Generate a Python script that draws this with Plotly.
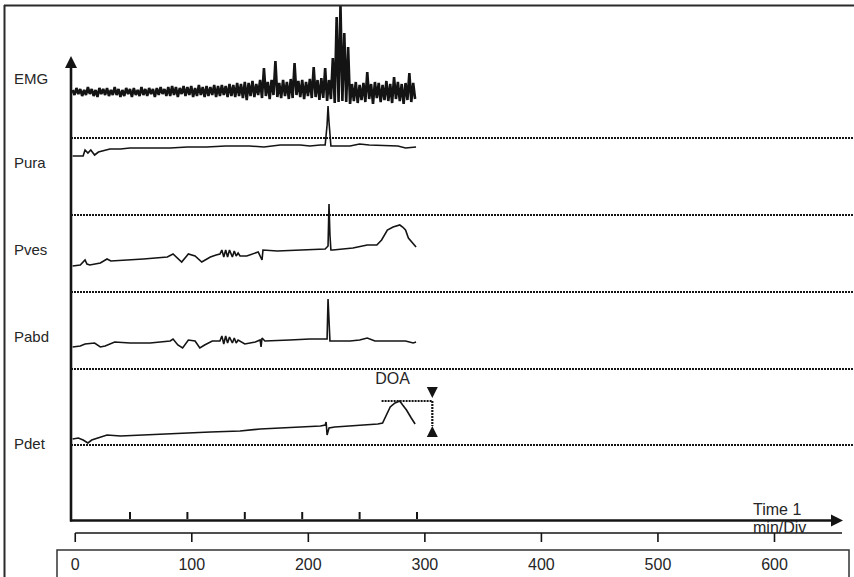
import plotly.graph_objects as go

# ---- data -------------------------------------------------------------
channels = ["EMG", "Pura", "Pves", "Pabd", "Pdet"]

minute_ticks = [60, 120, 180, 240, 300, 360]  # s, 1 min/Div
scale_ticks = [0, 100, 200, 300, 400, 500, 600]
scale_labels = ["0", "100", "200", "300", "400", "500", "600"]

emg_dt = 2  # s between EMG samples
emg = [
    2, -3, 4, -2, 3, -4, 2, -3, 5, -2,
    3, -4, 2, -5, 4, -2, 3, -3, 4, -4,
    2, -3, 5, -3, 3, -5, 2, -4, 4, -2,
    3, -5, 4, -3, 2, -4, 5, -3, 3, -4,
    4, -2, 3, -5, 4, -3, 5, -2, 3, -4,
    5, -4, 6, -3, 5, -5, 4, -2, 6, -4,
    5, -3, 6, -5, 4, -4, 7, -3, 5, -5,
    6, -4, 5, -3, 7, -5, 6, -4, 7, -3,
    6, -5, 8, -4, 7, -5, 9, -4, 8, -6,
    10, -8, 9, -4, 11, -5, 8, -3, 12, -6,
    24, -4, 10, -7, 12, -3, 31, -5, 9, -6,
    12, -4, 10, -7, 13, -6, 29, -3, 11, -5,
    12, -7, 10, -4, 13, -6, 25, -5, 12, -8,
    14, -6, 24, -9, 12, -7, 34, -11, 75, -10,
    87, -9, 59, -10, 45, -12, 8, -9, 10, -11,
    7, -8, 9, -10, 20, -7, 8, -12, 10, -6,
    9, -10, 7, -8, 11, -9, 8, -11, 15, -7,
    10, -9, 8, -12, 9, -8, 19, -10, 9, -7,
]

pura_t = [0, 11, 13, 16, 19, 23, 27, 32, 39, 50, 60, 81, 102, 120, 140, 160, 185,
          200, 217, 238, 248, 259, 264, 266, 267, 268, 270, 290, 300, 310, 331, 340,
          348, 359]
pura = [4, 4, 10, 7, 10, 5, 8, 9, 11, 11, 12, 12, 12, 13, 13, 14, 14,
        13, 15, 15, 14, 15, 15, 35, 54, 38, 14, 14, 16, 15, 14, 14,
        12, 13]

pves_t = [0, 8, 13, 15, 18, 29, 36, 40, 74, 99, 105, 109, 114, 121, 128, 135, 144,
          150, 154, 156, 158, 160, 162, 164, 167, 169, 171, 173, 175, 182, 194, 198,
          199, 214, 251, 264, 267, 268, 269, 270, 272, 293, 308, 318, 323, 329, 335,
          342, 345, 348, 351, 356, 359]
pves = [4, 5, 10, 6, 5, 7, 11, 9, 11, 13, 16, 12, 8, 16, 14, 8, 13,
        15, 16, 20, 13, 20, 13, 20, 13, 19, 14, 17, 14, 14, 18, 10,
        20, 19, 21, 21, 24, 66, 35, 20, 20, 22, 25, 25, 30, 40, 43,
        45, 43, 40, 32, 27, 23]

pabd_t = [0, 8, 13, 23, 29, 34, 44, 60, 81, 102, 105, 110, 115, 121, 128, 133, 138,
          146, 154, 156, 158, 160, 162, 164, 167, 169, 171, 173, 180, 191, 196, 197,
          198, 201, 227, 248, 264, 266, 267, 268, 269, 290, 300, 308, 316, 331, 348,
          356, 359]
pabd = [3, 4, 6, 7, 3, 4, 8, 7, 7, 9, 11, 5, 2, 10, 9, 2, 5,
        9, 9, 14, 6, 14, 7, 13, 7, 12, 7, 10, 6, 8, 10, 3,
        12, 9, 10, 11, 11, 11, 51, 20, 9, 9, 10, 12, 9, 9, 9,
        7, 8]

pdet_t = [0, 6, 11, 16, 20, 23, 29, 36, 50, 70, 91, 123, 144, 175, 196, 217, 238,
          259, 264, 265, 266, 268, 274, 290, 305, 319, 324, 332, 337, 342, 345, 349,
          354, 358]
pdet = [6, 7, 5, 2, 5, 6, 8, 10, 9, 10, 11, 12, 13, 14, 16, 17, 18,
        19, 20, 23, 10, 17, 18, 19, 20, 21, 22, 38, 42, 44, 40, 35,
        27, 21]

doa_t = [323, 376]
doa_level = 44
doa_base = 19
doa_arrow_top = 47

# ---- layout helpers (screen positions) -------------------------------
W, H = 854, 577
PX_PER_S = 0.9567   # 1 min/Div ~ 57.4 px
T0_PX = 72.6
U_PX = 1.1654       # lower scale, px per unit
U0_PX = 75.25
zero_px = {"EMG": 92, "Pura": 160, "Pves": 270, "Pabd": 350, "Pdet": 445}
label_px = {"EMG": 80, "Pura": 164, "Pves": 251, "Pabd": 338, "Pdet": 445}
dotted_px = [138, 215, 292, 369, 445]

INK = "#141414"
TXT = "#262626"
FONT = "Liberation Sans, Arial, sans-serif"


def tx(px):
    return (px - T0_PX) / PX_PER_S


def scale_to_t(u):
    # lower scale shares the time axis, with its own unit size
    return tx(U0_PX + u * U_PX)


def yy(px):
    return H - px


def lvl(name, vals):
    return [yy(zero_px[name]) + v for v in vals]


fig = go.Figure()

# traces
series = {
    "EMG": ([i * emg_dt for i in range(len(emg))], emg),
    "Pura": (pura_t, pura),
    "Pves": (pves_t, pves),
    "Pabd": (pabd_t, pabd),
    "Pdet": (pdet_t, pdet),
}
for name, (t, v) in series.items():
    fig.add_trace(
        go.Scatter(
            x=t,
            y=lvl(name, v),
            mode="lines",
            line=dict(color=INK, width=2.6 if name == "EMG" else 1.6),
            hoverinfo="skip",
        )
    )

# channel labels
fig.add_trace(
    go.Scatter(
        x=[tx(14)] * len(channels),
        y=[yy(label_px[c]) for c in channels],
        mode="text",
        text=channels,
        textposition="middle right",
        textfont=dict(family=FONT, size=15, color=TXT),
        hoverinfo="skip",
    )
)

# 1 min division ticks on the time axis
mx, my = [], []
for t in minute_ticks:
    mx += [t, t, None]
    my += [yy(519), yy(512), None]
fig.add_trace(go.Scatter(x=mx, y=my, mode="lines", line=dict(color=INK, width=2), hoverinfo="skip"))

# axis lines
fig.add_trace(
    go.Scatter(
        x=[tx(71), tx(71), None, tx(70), tx(833)],
        y=[yy(521.5), yy(66), None, yy(520.5), yy(520.5)],
        mode="lines",
        line=dict(color=INK, width=2.6),
        hoverinfo="skip",
    )
)
# axis arrowheads
fig.add_trace(
    go.Scatter(
        x=[tx(71), tx(843)],
        y=[yy(56), yy(520.5)],
        mode="markers",
        marker=dict(symbol=["arrow-up", "arrow-right"], size=12, color=INK, line=dict(width=0)),
        hoverinfo="skip",
    )
)

# lower scale: line, ticks and labels
sx, sy = [scale_to_t(scale_ticks[0]), tx(842), None], [yy(533), yy(533), None]
for u in scale_ticks:
    sx += [scale_to_t(u), scale_to_t(u), None]
    sy += [yy(533), yy(542), None]
fig.add_trace(go.Scatter(x=sx, y=sy, mode="lines", line=dict(color=INK, width=1.6), hoverinfo="skip"))
fig.add_trace(
    go.Scatter(
        x=[scale_to_t(u) for u in scale_ticks],
        y=[yy(566)] * len(scale_ticks),
        mode="text",
        text=scale_labels,
        textposition="middle center",
        textfont=dict(family=FONT, size=16, color=TXT),
        hoverinfo="skip",
    )
)

# DOA marker
pd0 = yy(zero_px["Pdet"])
fig.add_trace(
    go.Scatter(
        x=[doa_t[0], doa_t[1], None, doa_t[1], doa_t[1]],
        y=[pd0 + doa_level, pd0 + doa_level, None, pd0 + doa_level, pd0 + doa_base],
        mode="lines",
        line=dict(color=INK, width=2.2, dash="2px,1px"),
        hoverinfo="skip",
    )
)
fig.add_trace(
    go.Scatter(
        x=[doa_t[1], doa_t[1]],
        y=[pd0 + doa_arrow_top, pd0 + doa_base],
        mode="markers",
        marker=dict(symbol=["arrow-down", "arrow-up"], size=11, color=INK, line=dict(width=0)),
        hoverinfo="skip",
    )
)
fig.add_trace(
    go.Scatter(
        x=[(doa_t[0] + doa_t[1]) / 2 - 15],
        y=[yy(380)],
        mode="text",
        text=["DOA"],
        textposition="middle center",
        textfont=dict(family=FONT, size=16, color=TXT),
        hoverinfo="skip",
    )
)

# axis title
fig.add_trace(
    go.Scatter(
        x=[tx(753), tx(753)],
        y=[yy(511), yy(529)],
        mode="text",
        text=["Time 1", "min/Div"],
        textposition="middle right",
        textfont=dict(family=FONT, size=16, color=TXT),
        hoverinfo="skip",
    )
)


# frame, separators, scale box (paper coordinates)
def px_x(p):
    return p / W


def px_y(p):
    return 1 - p / H


shapes = [
    dict(type="line", xref="paper", yref="paper", x0=px_x(4), x1=1, y0=px_y(5.5), y1=px_y(5.5),
         line=dict(color="#2a2a2a", width=2.2)),
    dict(type="line", xref="paper", yref="paper", x0=px_x(4.5), x1=px_x(4.5), y0=px_y(5), y1=0,
         line=dict(color="#2a2a2a", width=2)),
    dict(type="rect", xref="paper", yref="paper", x0=px_x(57), x1=px_x(849), y0=px_y(550), y1=-0.05,
         line=dict(color="#333333", width=1.5)),
]
for p in dotted_px:
    shapes.append(
        dict(type="line", xref="paper", yref="paper", x0=px_x(71), x1=1, y0=px_y(p), y1=px_y(p),
             line=dict(color=INK, width=2.2, dash="2px,1px"))
    )

fig.update_layout(
    width=W,
    height=H,
    margin=dict(l=0, r=0, t=0, b=0),
    showlegend=False,
    paper_bgcolor="white",
    plot_bgcolor="white",
    xaxis=dict(range=[tx(0), tx(W)], visible=False),
    yaxis=dict(range=[0, H], visible=False),
    shapes=shapes,
)

# the page body has a default 8px margin and may scroll; drop both so the figure fills the window
fig.write_html(
    "out.html",
    config={"staticPlot": True},
    post_script=(
        "document.body.style.margin='0';"
        "document.body.style.overflow='hidden';"
        "document.documentElement.style.overflow='hidden';"
    ),
)
